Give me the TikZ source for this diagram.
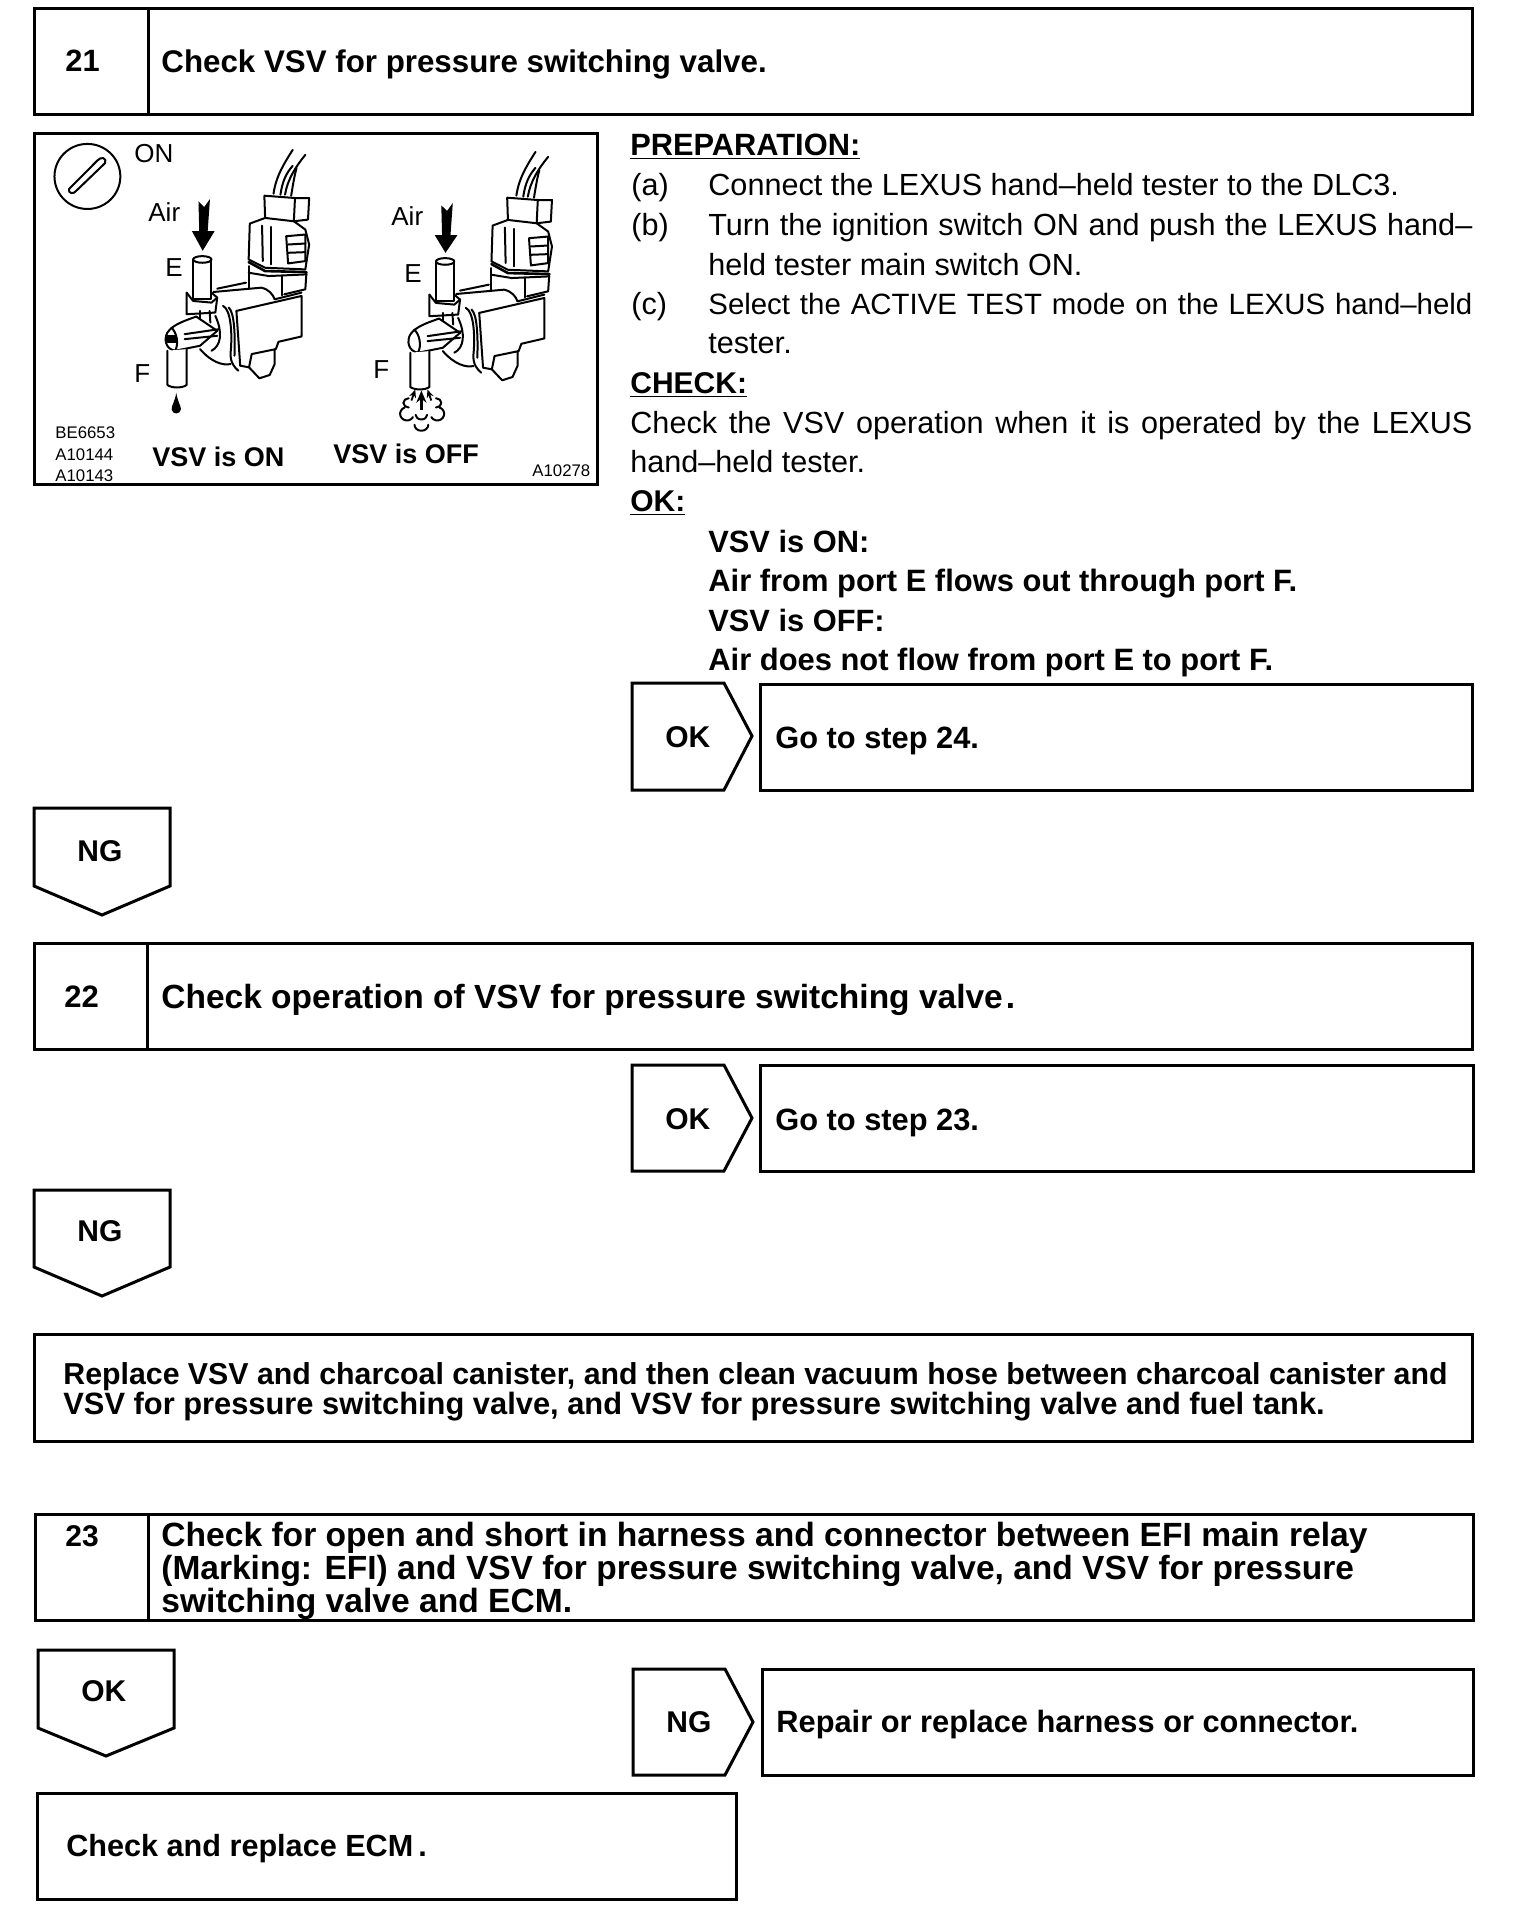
\documentclass[tikz,border=0pt]{standalone}
\usepackage{fontspec}
\setmainfont{Liberation Sans}
\usetikzlibrary{arrows.meta}
\newcommand{\bodyf}{\fontsize{15.3}{17}\selectfont}
\newcommand{\headf}{\fontsize{15.4}{17}\selectfont\bfseries}
\newcommand{\smallf}{\fontsize{8.4}{9}\selectfont}
\newcommand{\valve}{%
  % wires
  \draw[vl] (662,222) .. controls (668,170) and (690,130) .. (712,90);
  \draw[vl] (680,225) .. controls (685,185) and (695,160) .. (712,138);
  \draw[vl] (692,225) .. controls (698,180) and (720,140) .. (745,105);
  \draw[vl] (708,228) .. controls (712,200) and (716,170) .. (722,145);
  % upper connector
  \draw[vl] (638,228) -- (640,295) -- (715,305) -- (718,235) -- (638,228);
  \draw[vl] (718,235) -- (755,235) -- (752,300) -- (715,305);
  \draw[vl] (640,295) -- (600,312) -- (597,420) -- (640,445) -- (745,450) -- (755,375) -- (745,330) -- (715,305);
  \draw[vl] (632,318) -- (634,425);
  \draw[vl] (655,322) -- (655,435);
  \draw[vl] (695,350) -- (745,345) -- (745,425) -- (700,432) -- cycle;
  \draw[vl] (700,375) -- (745,372);
  \draw[vl] (700,400) -- (745,398);
  \draw[vl,line width=1.3pt] (597,428) -- (640,455) -- (748,458);
  % lower connector base
  \draw[vl] (597,440) -- (597,505);
  \draw[vl] (748,458) -- (745,510) -- (690,525);
  \draw[vl] (597,460) -- (650,470) -- (748,465);
  \draw[vl] (685,470) -- (685,528);
  % body
  \draw[vl] (505,518) -- (630,505) .. controls (650,510) and (660,525) .. (665,540);
  \draw[vl] (515,508) -- (590,490);
  \draw[vl] (565,575) -- (735,530) -- (735,652) -- (675,668) -- (668,690) -- (605,705) -- (598,745) -- (625,778) -- (652,768) -- (665,735) -- (665,690);
  \draw[vl] (565,575) -- (575,740) -- (598,745);
  \draw[vl] (665,540) -- (735,520);
  \draw[vl] (530,560) .. controls (550,570) and (555,640) .. (550,700) .. controls (548,730) and (560,745) .. (570,755);
  \draw[vl] (545,565) .. controls (560,580) and (562,650) .. (560,710);
  \draw[vl] (470,690) .. controls (500,730) and (530,740) .. (550,735);
  \draw[vl] (510,590) .. controls (530,640) and (525,680) .. (500,695);
  % port E
  \draw[vl,fill=white] (452,420) -- (452,540) -- (500,540) -- (500,420);
  \draw[vl,fill=white] (476,420) ellipse [x radius=24,y radius=10];
  \draw[vl] (435,520) -- (435,585) -- (510,580) -- (515,535) -- (500,520);
  \draw[vl] (435,520) -- (452,545) -- (500,550) -- (515,535);
  \draw[vl] (470,575) -- (470,600);
  \draw[vl] (495,575) -- (497,610);
  % elbow and port F
  \draw[vl,fill=white] (385,640) .. controls (400,615) and (430,605) .. (460,592) -- (515,635) -- (470,680) -- (405,695) .. controls (380,690) and (375,660) .. (385,640);
  \draw[vl] (395,625) .. controls (410,640) and (415,675) .. (405,695);
  \draw[vl] (430,645) -- (520,630);
  \draw[vl] (430,660) -- (515,650);
  \draw[vl,fill=white] (385,695) -- (385,798) .. controls (395,808) and (425,808) .. (435,798) -- (435,690);
}
\tikzset{
  lw/.style={line width=1.5pt,line join=miter},
  vl/.style={line width=1pt,line join=round,line cap=round},
  boxd/.style={lw,fill=white},
  bt/.style={anchor=base west,inner sep=0pt,font=\headf},
  rt/.style={anchor=base west,inner sep=0pt,font=\bodyf},
  st/.style={anchor=base west,inner sep=0pt,font=\smallf},
  figt/.style={anchor=base west,inner sep=0pt,font=\fontsize{13}{15}\selectfont},
  figb/.style={anchor=base west,inner sep=0pt,font=\fontsize{13.5}{15}\selectfont\bfseries},
  fz/.style={font=\fontsize{#1}{17}\selectfont\bfseries},
}
\begin{document}
\begin{tikzpicture}[x=0.5pt,y=-0.5pt]
\useasboundingbox (0,0) rectangle (1520,1918);
\fill[white] (0,0) rectangle (1520,1918);
% Step 21
\draw[boxd] (34,8) rectangle (1472,114);
\draw[lw] (148,8) -- (148,114);
\node[bt] (n21) at (65,71) {21};
\node[bt,fz=15.65] (t21) at (161,72) {Check VSV for pressure switching valve.};
% Figure
\draw[boxd] (34,133) rectangle (597,484);
\begin{scope}[shift={(20,120)},x=0.1915pt,y=-0.166pt]
  \draw[vl] (176,170) ellipse [x radius=86,y radius=98];
  \draw[vl] (128,208) .. controls (125,222) and (140,225) .. (148,212) -- (222,130) .. controls (228,115) and (212,108) .. (202,122) -- cycle;
  \valve
  \fill (382,648) rectangle (408,672);
  \begin{scope}[shift={(634,6)}]\valve\end{scope}
  % air arrows
  \fill (466,245) -- (481,262) -- (496,238) -- (490,335) -- (508,335) -- (477,394) -- (449,335) -- (468,335) -- cycle;
  \begin{scope}[shift={(634,12)}]
    \fill (466,245) -- (481,262) -- (496,238) -- (490,335) -- (508,335) -- (477,388) -- (449,335) -- (468,335) -- cycle;
  \end{scope}
  % drop
  \fill (408,822) .. controls (412,850) and (422,865) .. (420,872) .. controls (418,888) and (398,888) .. (396,872) .. controls (395,860) and (404,850) .. (408,822) -- cycle;
  % spray
  \coordinate (s1) at (1048,815); \coordinate (s2) at (1048,872);
  \draw[line width=1.3pt,{Stealth[length=6pt,width=5pt]}-] (s1) -- (s2);
  \draw[line width=.9pt,{Stealth[length=4pt,width=3.5pt]}-] (1032,812) -- (1022,845);
  \draw[line width=.9pt,{Stealth[length=4pt,width=3.5pt]}-] (1064,812) -- (1074,845);
  \draw[vl] (1015,866) arc (90:270:14 and 14);
  \draw[vl] (1086,866) arc (90:-90:14 and 14);
  \draw[vl] (1026,895) arc (30:250:18 and 20);
  \draw[vl] (1074,895) arc (150:-70:18 and 20);
  \draw[vl] (1033,888) arc (180:0:15 and 14);
  \draw[vl] (1030,918) arc (180:0:18 and 18);
\end{scope}
\node[figt] (lon) at (134,162) {ON};
\node[figt] (lair1) at (148,221) {Air};
\node[figt] (lair2) at (391,225) {Air};
\node[figt] (le1) at (165,276) {E};
\node[figt] (le2) at (404,282) {E};
\node[figt] (lf1) at (134,382) {F};
\node[figt] (lf2) at (373,378) {F};
\node[st] (c1) at (55,438) {BE6653};
\node[st] (c2) at (55,460) {A10144};
\node[st] (c3) at (55,481) {A10143};
\node[st] (c4) at (532,476) {A10278};
\node[figb] (von) at (152,466) {VSV is ON};
\node[figb] (voff) at (333,463) {VSV is OFF};
% Right column
\node[bt] (prep) at (630,155) {\underline{PREPARATION:}};
\node[rt] (pa) at (631,195) {(a)};
\node[rt] (pat) at (708,195) {Connect the LEXUS hand–held tester to the DLC3.};
\node[rt] (pb) at (631,235) {(b)};
\node[rt] (pbt) at (708,235) {\makebox[382pt][s]{Turn the ignition switch ON and push the LEXUS hand–}};
\node[rt] (pbt2) at (708,275) {held tester main switch ON.};
\node[rt] (pc) at (631,314) {(c)};
\node[rt,font=\fontsize{14.7}{17}\selectfont] (pct) at (708,314) {\makebox[382pt][s]{Select the ACTIVE TEST mode on the LEXUS hand–held}};
\node[rt] (pct2) at (708,353) {tester.};
\node[bt,fz=15] (chk) at (630,393) {\underline{CHECK:}};
\node[rt] (c1t) at (630,433) {\makebox[421pt][s]{Check the VSV operation when it is operated by the LEXUS}};
\node[rt] (c2t) at (630,472) {hand–held tester.};
\node[bt,fz=15] (okh) at (630,511) {\underline{OK:}};
\node[bt] (o1) at (708,552) {VSV is ON:};
\node[bt,fz=15.45] (o2) at (708,591) {Air from port E flows out through port F.};
\node[bt] (o3) at (708,631) {VSV is OFF:};
\node[bt,fz=15.45] (o4) at (708,670) {Air does not flow from port E to port F.};
% OK -> 24
\draw[boxd] (632,683) -- (724,683) -- (752,736) -- (724,790) -- (632,790) -- cycle;
\node[bt,fz=15] (ok1) at (665,747) {OK};
\draw[boxd] (760,684) rectangle (1472,790);
\node[bt] (go24) at (775,748) {Go to step 24.};
% NG
\draw[boxd] (34,808) -- (170,808) -- (170,886) -- (102,915) -- (34,886) -- cycle;
\node[bt,fz=15] (ng1) at (77,861) {NG};
% Step 22
\draw[boxd] (34,943) rectangle (1472,1049);
\draw[lw] (147,943) -- (147,1049);
\node[bt,fz=15.5] (n22) at (64,1007) {22};
\node[bt,fz=16.75] (t22) at (161,1008) {Check operation of VSV for pressure switching valve\hspace{1.5pt}.};
\draw[boxd] (632,1065) -- (724,1065) -- (752,1118) -- (724,1171) -- (632,1171) -- cycle;
\node[bt,fz=15] (ok2) at (665,1129) {OK};
\draw[boxd] (760,1065) rectangle (1473,1171);
\node[bt] (go23) at (775,1130) {Go to step 23.};
\draw[boxd] (34,1190) -- (170,1190) -- (170,1267) -- (102,1296) -- (34,1267) -- cycle;
\node[bt,fz=15] (ng2) at (77,1241) {NG};
\draw[boxd] (34,1334) rectangle (1472,1441);
\node[bt,fz=15.15] (r1) at (63,1384) {Replace VSV and charcoal canister, and then clean vacuum hose between charcoal canister and};
\node[bt,fz=15.42] (r2) at (63,1414) {VSV for pressure switching valve, and VSV for pressure switching valve and fuel tank.};
% Step 23
\draw[boxd] (35,1514) rectangle (1473,1620);
\draw[lw] (148,1514) -- (148,1620);
\node[bt,fz=15] (n23) at (65,1546) {23};
\node[bt,fz=16.8] (t23a) at (161,1546) {Check for open and short in harness and connector between EFI main relay};
\node[bt,fz=16.75] (t23b) at (161,1579) {(Marking: EFI) and VSV for pressure switching valve, and VSV for pressure};
\node[bt,fz=16.8] (t23c) at (161,1612) {switching valve and ECM.};
\draw[boxd] (38,1650) -- (174,1650) -- (174,1728) -- (106,1756) -- (38,1728) -- cycle;
\node[bt,fz=15] (ok3) at (81,1701) {OK};
\draw[boxd] (633,1669) -- (725,1669) -- (753,1722) -- (725,1775) -- (633,1775) -- cycle;
\node[bt,fz=15] (ng3) at (666,1732) {NG};
\draw[boxd] (762,1669) rectangle (1473,1775);
\node[bt] (rep) at (776,1732) {Repair or replace harness or connector.};
\draw[boxd] (37,1793) rectangle (736,1899);
\node[bt,fz=15.3] (ecm) at (66,1856) {Check and replace ECM\,.};
\end{tikzpicture}
\end{document}
